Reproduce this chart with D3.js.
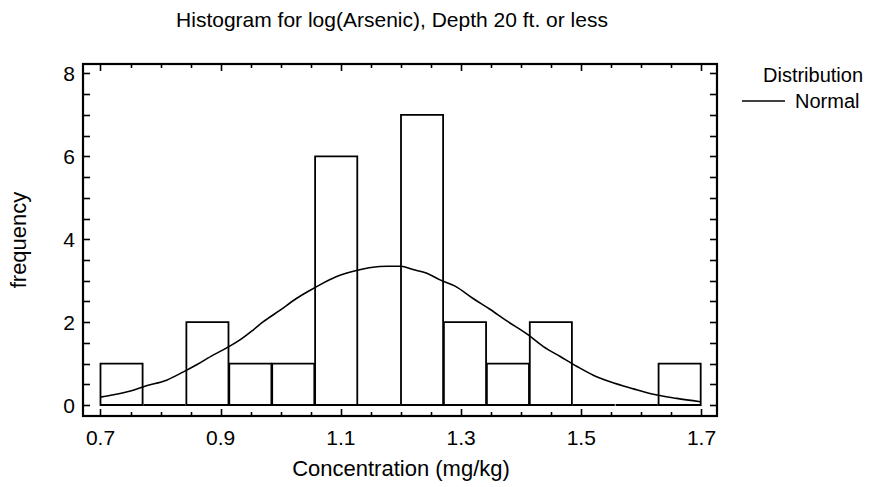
<!DOCTYPE html>
<html><head><meta charset="utf-8">
<script src="https://cdn.jsdelivr.net/npm/d3@7"></script>
<style>body{margin:0;background:#fff}svg{display:block}text{font-family:"Liberation Sans",Arial,sans-serif;fill:#000}</style>
</head><body><svg id="c" width="880" height="487"></svg>
<script>
const title = "Histogram for log(Arsenic), Depth 20 ft. or less";
const xLabel = "Concentration (mg/kg)";
const yLabel = "frequency";
const legendTitle = "Distribution";
const legendItem = "Normal";
const binEdges = [0.7,0.7714,0.8429,0.9143,0.9857,1.0571,1.1286,1.2,1.2714,1.3429,1.4143,1.4857,1.5571,1.6286,1.7];
const binCounts = [1,0,2,1,1,6,0,7,2,1,2,0,0,1];
const xTicks = [0.7,0.9,1.1,1.3,1.5,1.7];
const yTicks = [0,2,4,6,8];
const curveX = [0.7,0.719,0.75,0.775,0.81,0.838,0.86,0.888,0.904,0.932,0.954,0.971,0.999,1.026,1.049,1.065,1.093,1.133,1.15,1.178,1.2,1.22,1.243,1.265,1.29,1.32,1.348,1.376,1.41,1.437,1.465,1.493,1.52,1.548,1.587,1.626,1.659,1.698];
const curveY = [0.19,0.24,0.34,0.46,0.60,0.80,0.97,1.21,1.33,1.57,1.81,2.01,2.29,2.57,2.77,2.90,3.10,3.27,3.32,3.35,3.35,3.27,3.18,3.02,2.87,2.57,2.31,2.03,1.71,1.41,1.17,0.93,0.72,0.56,0.39,0.24,0.16,0.08];

const svg = d3.select("#c");
const L=83,R=717,T=64,B=416;
const x = d3.scaleLinear().domain([0.6709,1.7258]).range([L,R]);
const y = d3.scaleLinear().domain([-0.265,8.229]).range([B,T]);

// bars (drawn as closed paths so that empty bins show as a baseline)
const bins = binCounts.map((c,i)=>({x0:binEdges[i],x1:binEdges[i+1],c}));
svg.append("g").selectAll("path").data(bins).join("path")
  .attr("d",d=>{
    const a=x(d.x0), b=x(d.x1)-0.8, t=y(d.c), z=y(0);
    return `M${a},${z}V${t}H${b}V${z}Z`;
  })
  .attr("fill","none").attr("stroke","#000").attr("stroke-width",1.8);

// curve
const pts = curveX.map((v,i)=>[v,curveY[i]]);
svg.append("path").datum(pts)
  .attr("d",d3.line().x(d=>x(d[0])).y(d=>y(d[1])).curve(d3.curveMonotoneX))
  .attr("fill","none").attr("stroke","#000").attr("stroke-width",1.6);

// frame
svg.append("rect").attr("x",L).attr("y",T).attr("width",R-L).attr("height",B-T)
  .attr("fill","none").attr("stroke","#000").attr("stroke-width",2.2);

// ticks
const xMinor = d3.range(0.7,1.7001,0.05);
const yMinor = d3.range(0,8.001,0.5);
const tg = svg.append("g").attr("stroke","#000").attr("stroke-width",1.6);
xMinor.forEach(v=>{
  const major = xTicks.some(t=>Math.abs(t-v)<1e-6);
  const len = major?7:4;
  const px = Math.round(x(v))+0.5;
  tg.append("line").attr("x1",px).attr("x2",px).attr("y1",B).attr("y2",B-len);
  tg.append("line").attr("x1",px).attr("x2",px).attr("y1",T).attr("y2",T+len);
});
yMinor.forEach(v=>{
  const py = Math.round(y(v))+0.5;
  tg.append("line").attr("x1",L).attr("x2",L+7).attr("y1",py).attr("y2",py);
  tg.append("line").attr("x1",R).attr("x2",R-7).attr("y1",py).attr("y2",py);
});

// tick labels
svg.append("g").selectAll("text").data(xTicks).join("text")
  .attr("x",d=>x(d)).attr("y",445).attr("text-anchor","middle").attr("font-size",21)
  .text(d=>d3.format(".1f")(d));
svg.append("g").selectAll("text").data(yTicks).join("text")
  .attr("x",75).attr("y",d=>y(d)+7.5).attr("text-anchor","end").attr("font-size",21)
  .text(d=>d);

svg.append("text").attr("x",392).attr("y",27).attr("text-anchor","middle").attr("font-size",21).text(title);
svg.append("text").attr("x",401).attr("y",476).attr("text-anchor","middle").attr("font-size",22).text(xLabel);
svg.append("text").attr("transform","translate(26,240) rotate(-90)").attr("text-anchor","middle").attr("font-size",22).text(yLabel);

// legend
svg.append("text").attr("x",763).attr("y",82).attr("font-size",20).text(legendTitle);
svg.append("line").attr("x1",742).attr("x2",785).attr("y1",101).attr("y2",101).attr("stroke","#000").attr("stroke-width",1.6);
svg.append("text").attr("x",795).attr("y",108).attr("font-size",20).text(legendItem);
</script></body></html>
